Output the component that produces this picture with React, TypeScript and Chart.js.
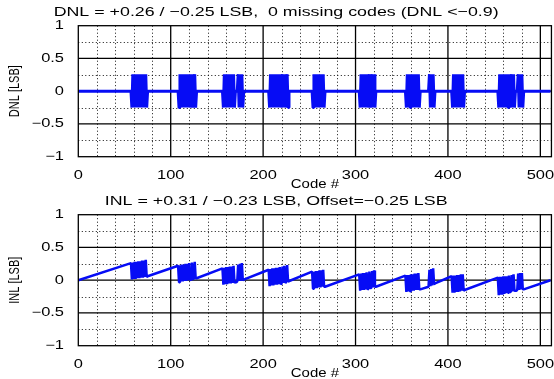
import { useEffect, useRef } from "react";
import { Chart, registerables } from "chart.js";

Chart.register(...registerables);

// DNL levels used in the bursts (LSB)
const H = 0.26;
const L = -0.25;

// Each run starts at the given code and lists one value per code.
const dnlStarts = [0, 57, 108, 156, 206, 253, 304, 354, 379, 404, 454, 511];
const dnlRuns = [
  [0],
  [0, L, H, L, H, L, H, L, H, L, H, L, H, L, H, L, H, L, 0],
  [0, L, H, L, H, L, H, L, H, L, H, L, H, L, 0, H, L, 0, H, L, 0],
  [0, L, H, L, H, L, H, L, H, L, H, L, H, L, 0, 0, 0, H, L, H, L, H, L, 0],
  [0, L, H, L, H, L, H, L, H, L, H, L, H, L, 0, H, L, H, L, 0, H, L, 0],
  [0, L, H, L, H, L, H, L, H, L, H, L, H, L, 0],
  [0, L, H, L, H, L, H, L, H, L, 0, H, L, 0, H, L, H, L, 0],
  [0, L, H, L, H, L, H, L, H, L, H, L, H, L, H, L, 0],
  [0, H, L, H, L, H, L, 0],
  [0, L, H, L, H, L, H, L, H, L, H, L, H, L, 0],
  [0, L, H, L, H, L, H, L, H, L, H, L, H, L, 0, H, L, H, L, 0, 0, 0, H, L, H, L, H, L, 0],
  [0],
];

const inlStarts = [0, 57, 108, 156, 206, 253, 304, 354, 379, 404, 454, 511];
const inlRuns = [
  [0],
  [0.26, 0.01, 0.27, 0.02, 0.28, 0.02, 0.28, 0.03, 0.29, 0.03, 0.29, 0.04, 0.3, 0.04, 0.3, 0.05, 0.31, 0.05, 0.06],
  [0.22, -0.03, 0.23, -0.02, 0.24, -0.02, 0.24, -0.01, 0.25, -0.01, 0.25, 0.0, 0.26, 0.0, 0.01, 0.27, 0.02, 0.02, 0.28, 0.03, 0.03],
  [0.18, -0.07, 0.19, -0.06, 0.2, -0.06, 0.2, -0.05, 0.21, -0.05, 0.21, -0.04, 0.22, -0.04, -0.03, -0.03, -0.02, 0.24, -0.01, 0.25, -0.01, 0.26, 0.0, 0.01],
  [0.16, -0.09, 0.17, -0.08, 0.18, -0.08, 0.18, -0.07, 0.19, -0.07, 0.19, -0.06, 0.2, -0.06, -0.05, 0.21, -0.04, 0.22, -0.04, -0.03, 0.23, -0.02, -0.02],
  [0.13, -0.13, 0.13, -0.12, 0.14, -0.12, 0.14, -0.11, 0.15, -0.11, 0.15, -0.1, 0.16, -0.1, -0.1],
  [0.09, -0.16, 0.1, -0.15, 0.11, -0.15, 0.11, -0.14, 0.12, -0.14, -0.13, 0.13, -0.12, -0.12, 0.14, -0.11, 0.15, -0.1, -0.1],
  [0.07, -0.18, 0.08, -0.17, 0.08, -0.17, 0.09, -0.16, 0.09, -0.16, 0.1, -0.15, 0.1, -0.15, 0.11, -0.14, -0.14],
  [-0.1, 0.16, -0.09, 0.17, -0.08, 0.18, -0.06, -0.05],
  [0.06, -0.19, 0.07, -0.19, 0.07, -0.18, 0.08, -0.18, 0.08, -0.17, 0.09, -0.16, 0.09, -0.16, -0.15],
  [0.04, -0.23, 0.05, -0.22, 0.05, -0.22, 0.06, -0.21, 0.06, -0.2, 0.06, -0.19, 0.07, -0.18, -0.18, 0.08, -0.17, 0.09, -0.16, -0.16, -0.16, -0.15, 0.1, -0.15, 0.11, -0.14, 0.11, -0.14, -0.14],
  [0],
];

const xGridMajor = [100, 200, 300, 400, 500];
const xGridMinor = [20, 40, 60, 80, 120, 140, 160, 180, 220, 240, 260, 280, 320, 340, 360, 380, 420, 440, 460, 480];
const yGridMajor = [-0.5, 0, 0.5];
const yGridMinor = [-0.75, -0.25, 0.25, 0.75];

const dnlTitle = "DNL = +0.26 / \u22120.25 LSB,  0 missing codes (DNL <\u22120.9)";
const inlTitle = "INL = +0.31 / \u22120.23 LSB, Offset=\u22120.25 LSB";
const xTitle = "Code #";
const dnlYTitle = "DNL [LSB]";
const inlYTitle = "INL [LSB]";

const FONT = '"Liberation Sans", Arial, Helvetica, sans-serif';
const BLUE = "rgb(6, 12, 245)";
const TEXT_STRETCH = 1.37;
const XTITLE_STRETCH = 1.15;
const ROTATED_THICKEN = 1.27;

function toPoints(starts: number[], runs: number[][]) {
  const pts: { x: number; y: number }[] = [];
  runs.forEach((run, i) => run.forEach((y, j) => pts.push({ x: starts[i] + j, y })));
  return pts;
}

function stretchText(ctx: CanvasRenderingContext2D) {
  const anyCtx = ctx as any;
  if (anyCtx.__stretched) return;
  anyCtx.__stretched = true;
  const orig = ctx.fillText.bind(ctx);
  anyCtx.fillText = (text: string, x: number, y: number) => {
    const t = ctx.getTransform();
    ctx.save();
    ctx.translate(x, y);
    if (Math.abs(t.b) > 1e-6) {
      ctx.scale(1, ROTATED_THICKEN);
    } else {
      ctx.scale(text === xTitle ? XTITLE_STRETCH : TEXT_STRETCH, 1);
    }
    orig(text, 0, 0);
    ctx.restore();
  };
}

const gridPlugin = {
  id: "matlabGrid",
  beforeDatasetsDraw(chart: any) {
    const { ctx, chartArea: a, scales } = chart;
    const x = scales.x;
    const y = scales.y;
    ctx.save();
    ctx.lineWidth = 1;
    ctx.strokeStyle = "#111";
    ctx.setLineDash([1, 2.5]);
    ctx.beginPath();
    for (const v of xGridMinor) {
      const px = Math.round(x.getPixelForValue(v)) + 0.5;
      ctx.moveTo(px, a.top);
      ctx.lineTo(px, a.bottom);
    }
    for (const v of yGridMinor) {
      const py = Math.round(y.getPixelForValue(v)) + 0.5;
      ctx.moveTo(a.left, py);
      ctx.lineTo(a.right, py);
    }
    ctx.stroke();
    ctx.setLineDash([]);
    ctx.strokeStyle = "#000";
    ctx.lineWidth = 1.3;
    ctx.beginPath();
    for (const v of xGridMajor) {
      const px = x.getPixelForValue(v);
      ctx.moveTo(px, a.top);
      ctx.lineTo(px, a.bottom);
    }
    for (const v of yGridMajor) {
      const py = y.getPixelForValue(v);
      ctx.moveTo(a.left, py);
      ctx.lineTo(a.right, py);
    }
    ctx.stroke();
    ctx.restore();
  },
  afterDatasetsDraw(chart: any) {
    const { ctx, chartArea: a } = chart;
    ctx.save();
    ctx.strokeStyle = "#000";
    ctx.lineWidth = 1.3;
    ctx.strokeRect(a.left, a.top, a.right - a.left, a.bottom - a.top);
    ctx.restore();
  },
};

function makeConfig(points: { x: number; y: number }[], title: string, yTitle: string, lineWidth: number): any {
  return {
    type: "line",
    data: {
      datasets: [
        {
          data: points,
          borderColor: BLUE,
          backgroundColor: BLUE,
          borderWidth: lineWidth,
          pointRadius: 0,
          fill: false,
          tension: 0,
          borderJoinStyle: "bevel",
        },
      ],
    },
    options: {
      responsive: false,
      animation: false,
      events: [],
      layout: { padding: { left: 0, right: 1.7, top: 0, bottom: 0 } },
      plugins: {
        legend: { display: false },
        tooltip: { enabled: false },
        title: {
          display: true,
          text: title,
          color: "#000",
          font: { family: FONT, size: 13, weight: "normal", lineHeight: 1.2 },
          padding: { top: 4.2, bottom: 5.9 },
        },
      },
      scales: {
        x: {
          type: "linear",
          min: 0,
          max: 512,
          grid: { display: false },
          border: { display: false },
          ticks: {
            stepSize: 100,
            includeBounds: false,
            autoSkip: false,
            maxRotation: 0,
            padding: 3.6,
            color: "#000",
            font: { family: FONT, size: 12, lineHeight: 1.2 },
            callback: (v: number) => String(v),
          },
          title: {
            display: true,
            text: xTitle,
            color: "#000",
            font: { family: FONT, size: 13, lineHeight: 0.7 },
            padding: 0,
          },
          afterFit: (s: any) => {
            s.height = 32.3;
          },
        },
        y: {
          type: "linear",
          min: -1,
          max: 1,
          grid: { display: false },
          border: { display: false },
          ticks: {
            stepSize: 0.5,
            padding: 6.3,
            color: "#000",
            font: { family: FONT, size: 12, lineHeight: 1.2 },
            callback: (v: number) => (v < 0 ? "\u2212" + String(-v) : String(v)),
          },
          title: {
            display: true,
            text: yTitle,
            color: "#000",
            font: { family: FONT, size: 11, lineHeight: 0.82 },
            padding: { top: 10.5, bottom: 0 },
          },
          afterFit: (s: any) => {
            s.width = 78.3;
          },
        },
      },
    },
    plugins: [gridPlugin],
  };
}

function Panel(props: { points: { x: number; y: number }[]; title: string; yTitle: string; top: number; lineWidth: number }) {
  const ref = useRef<HTMLCanvasElement>(null);
  useEffect(() => {
    const canvas = ref.current;
    if (!canvas) return;
    const ctx = canvas.getContext("2d");
    if (!ctx) return;
    stretchText(ctx);
    const chart = new Chart(ctx, makeConfig(props.points, props.title, props.yTitle, props.lineWidth));
    return () => chart.destroy();
  }, []);
  return (
    <canvas
      ref={ref}
      width={554}
      height={189}
      style={{ position: "absolute", left: 0, top: props.top, display: "block", width: 554, height: 189 }}
    />
  );
}

export default function App() {
  const dnlPoints = toPoints(dnlStarts, dnlRuns);
  const inlPoints = toPoints(inlStarts, inlRuns);
  return (
    <div style={{ position: "absolute", left: 0, top: 0, width: 554, height: 379, background: "#fff", overflow: "hidden" }}>
      <Panel points={dnlPoints} title={dnlTitle} yTitle={dnlYTitle} top={0} lineWidth={3} />
      <Panel points={inlPoints} title={inlTitle} yTitle={inlYTitle} top={189} lineWidth={2.5} />
    </div>
  );
}
